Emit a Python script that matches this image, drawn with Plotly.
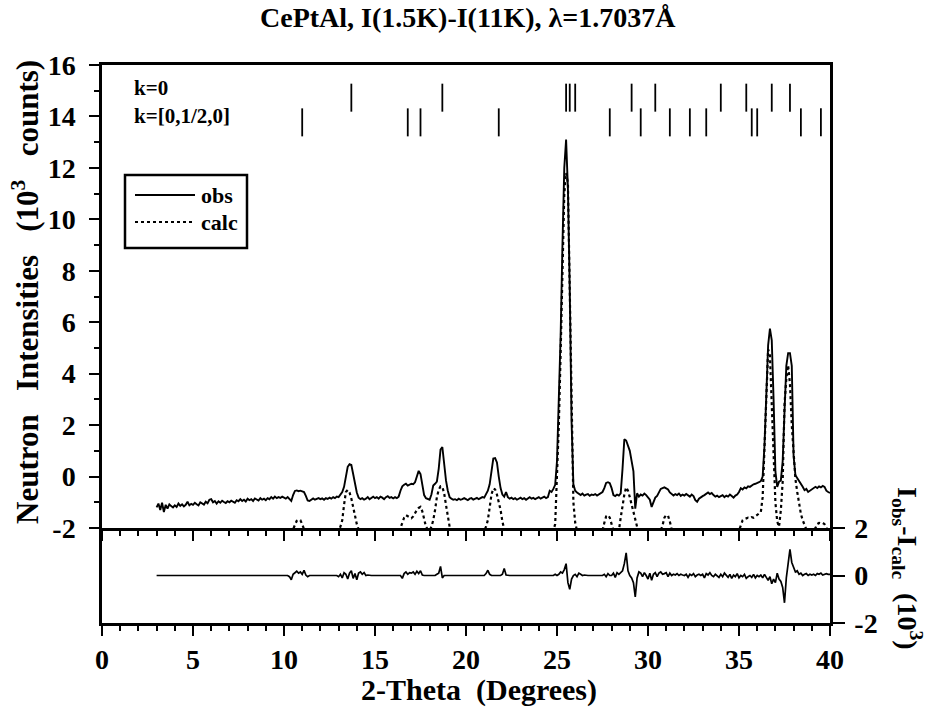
import numpy as np
import plotly.graph_objects as go

# ---------------- data ----------------
# 2-theta step scan: 3.0 .. 40.0 deg, step 0.1
TT_START, TT_STEP, TT_N = 3.0, 0.1, 371

OBS = [
 -1.20, -1.05, -1.30, -1.02, -1.38, -1.10, -1.25, -1.08, -1.15, -1.20,  # 3
 -1.12, -1.18, -1.05, -1.14, -1.08, -1.16, -1.10, -0.98, -1.12, -1.06,  # 4
 -1.10, -1.02, -1.08, -1.12, -1.00, -1.05, -1.09, -0.98, -1.04, -0.90,  # 5
 -0.88, -1.00, -0.95, -1.05, -0.96, -1.02, -0.94, -0.99, -1.03, -0.96,  # 6
 -1.00, -0.94, -0.98, -1.02, -0.92, -0.96, -0.88, -0.95, -0.90, -0.97,  # 7
 -0.86, -0.92, -0.88, -0.95, -0.85, -0.90, -0.93, -0.84, -0.90, -0.86,  # 8
 -0.92, -0.84, -0.88, -0.80, -0.86, -0.78, -0.84, -0.80, -0.83, -0.78,  # 9
 -0.82, -0.86, -0.80, -0.88, -0.95, -0.72, -0.56, -0.54, -0.57, -0.55,  # 10
 -0.58, -0.60, -0.75, -0.93, -0.95, -0.88, -0.85, -0.90, -0.86, -0.84,  # 11
 -0.88, -0.85, -0.90, -0.84, -0.87, -0.82, -0.86, -0.80, -0.84, -0.78,  # 12
 -0.80, -0.72, -0.60, -0.40, -0.05, 0.38, 0.48, 0.45, 0.10, -0.35,      # 13
 -0.62, -0.82, -0.88, -0.84, -0.90, -0.86, -0.80, -0.88, -0.84, -0.78,  # 14
 -0.84, -0.80, -0.86, -0.78, -0.82, -0.88, -0.80, -0.76, -0.83, -0.80,  # 15
 -0.85, -0.80, -0.84, -0.78, -0.55, -0.38, -0.32, -0.28, -0.35, -0.30,  # 16
 -0.28, -0.30, -0.22, 0.00, 0.22, 0.10, -0.35, -0.72, -0.84, -0.88,     # 17
 -0.90, -0.70, -0.35, -0.28, -0.20, 0.30, 1.05, 1.15, 0.40, -0.15,      # 18
 -0.55, -0.80, -0.86, -0.90, -0.88, -0.92, -0.86, -0.90, -0.88, -0.84,  # 19
 -0.88, -0.92, -0.86, -0.84, -0.90, -0.87, -0.83, -0.88, -0.85, -0.80,  # 20
 -0.82, -0.70, -0.55, -0.30, 0.25, 0.70, 0.72, 0.55, 0.00, -0.45,      # 21
 -0.70, -0.78, -0.60, -0.80, -0.86, -0.82, -0.88, -0.84, -0.90, -0.86,  # 22
 -0.82, -0.88, -0.84, -0.90, -0.85, -0.80, -0.86, -0.83, -0.88, -0.84,  # 23
 -0.80, -0.86, -0.82, -0.78, -0.84, -0.80, -0.55, -0.60, -0.48, -0.32,  # 24
 0.60, 2.80, 5.50, 9.00, 12.00, 13.10, 11.20, 7.30, 2.15, -0.30,        # 25
 -0.55, -0.62, -0.68, -0.72, -0.66, -0.74, -0.70, -0.68, -0.75, -0.70,  # 26
 -0.72, -0.68, -0.74, -0.70, -0.66, -0.60, -0.45, -0.25, -0.22, -0.26,  # 27
 -0.45, -0.72, -0.76, -0.70, -0.74, -0.65, 0.30, 1.45, 1.40, 1.20,      # 28
 1.00, 0.60, 0.20, -1.25, -0.65, -0.78, -0.70, -0.74, -0.66, -0.72,     # 29
 -0.80, -0.90, -1.18, -1.00, -0.82, -0.75, -0.60, -0.48, -0.45, -0.42,  # 30
 -0.46, -0.50, -0.62, -0.70, -0.74, -0.68, -0.72, -0.66, -0.75, -0.70,  # 31
 -0.74, -0.68, -0.72, -0.78, -0.70, -0.76, -0.92, -0.98, -0.86, -0.80,  # 32
 -0.76, -0.72, -0.66, -0.62, -0.68, -0.64, -0.72, -0.78, -0.74, -0.80,  # 33
 -0.76, -0.72, -0.80, -0.74, -0.78, -0.70, -0.76, -0.82, -0.74, -0.70,  # 34
 -0.60, -0.45, -0.50, -0.42, -0.46, -0.38, -0.40, -0.34, -0.30, -0.28,  # 35
 -0.26, -0.22, -0.18, 0.00, 1.20, 3.20, 5.10, 5.75, 5.30, 3.00,         # 36
 0.20, -0.40, -0.20, -0.15, 0.60, 2.50, 4.30, 4.80, 4.80, 4.30,         # 37
 0.80, 0.05, -0.05, -0.15, -0.25, -0.40, -0.53, -0.48, -0.60, -0.55,    # 38
 -0.50, -0.42, -0.40, -0.45, -0.38, -0.42, -0.36, -0.40, -0.55, -0.60,  # 39
 -0.64]

CALC = [
 -2.10, -2.10, -2.10, -2.10, -2.10, -2.10, -2.10, -2.10, -2.10, -2.10,  # 3
 -2.10, -2.10, -2.10, -2.10, -2.10, -2.10, -2.10, -2.10, -2.10, -2.10,  # 4
 -2.10, -2.10, -2.10, -2.10, -2.10, -2.10, -2.10, -2.10, -2.10, -2.10,  # 5
 -2.10, -2.10, -2.10, -2.10, -2.10, -2.10, -2.10, -2.10, -2.10, -2.10,  # 6
 -2.10, -2.10, -2.10, -2.10, -2.10, -2.10, -2.10, -2.10, -2.10, -2.10,  # 7
 -2.10, -2.10, -2.10, -2.10, -2.10, -2.10, -2.10, -2.10, -2.10, -2.10,  # 8
 -2.10, -2.10, -2.10, -2.10, -2.10, -2.10, -2.10, -2.10, -2.10, -2.10,  # 9
 -2.10, -2.10, -2.10, -2.10, -2.10, -2.05, -1.90, -1.72, -1.68, -1.70,  # 10
 -1.85, -2.05, -2.10, -2.10, -2.10, -2.10, -2.10, -2.10, -2.10, -2.10,  # 11
 -2.10, -2.10, -2.10, -2.10, -2.10, -2.10, -2.10, -2.10, -2.10, -2.10,  # 12
 -2.10, -1.95, -1.70, -1.10, -0.60, -0.52, -0.62, -0.85, -1.20, -1.50,  # 13
 -1.85, -2.05, -2.10, -2.10, -2.10, -2.10, -2.10, -2.10, -2.10, -2.10,  # 14
 -2.10, -2.10, -2.10, -2.10, -2.10, -2.10, -2.10, -2.10, -2.10, -2.10,  # 15
 -2.10, -2.10, -2.10, -2.10, -2.00, -1.80, -1.60, -1.50, -1.55, -1.60,  # 16
 -1.62, -1.55, -1.40, -1.30, -1.22, -1.18, -1.35, -1.65, -1.95, -2.05,  # 17
 -2.10, -1.95, -1.70, -1.30, -0.80, -0.52, -0.38, -0.40, -0.65, -1.10,  # 18
 -1.55, -1.95, -2.10, -2.10, -2.10, -2.10, -2.10, -2.10, -2.10, -2.10,  # 19
 -2.10, -2.10, -2.10, -2.10, -2.10, -2.10, -2.10, -2.10, -2.10, -2.10,  # 20
 -2.10, -1.95, -1.70, -1.20, -0.70, -0.46, -0.50, -0.70, -1.00, -1.30,  # 21
 -1.75, -2.05, -2.10, -2.10, -2.10, -2.10, -2.10, -2.10, -2.10, -2.10,  # 22
 -2.10, -2.10, -2.10, -2.10, -2.10, -2.10, -2.10, -2.10, -2.10, -2.10,  # 23
 -2.10, -2.10, -2.10, -2.10, -2.10, -2.10, -2.10, -2.10, -2.10, -1.85,  # 24
 -0.20, 2.00, 4.80, 8.00, 11.00, 11.80, 11.40, 7.30, 2.20, -1.00,       # 25
 -1.80, -2.10, -2.10, -2.10, -2.10, -2.10, -2.10, -2.10, -2.10, -2.10,  # 26
 -2.10, -2.10, -2.10, -2.10, -2.10, -2.10, -1.80, -1.55, -1.50, -1.60,  # 27
 -1.85, -2.10, -2.10, -2.10, -2.10, -1.60, -1.10, -0.70, -0.42, -0.55,  # 28
 -0.80, -1.10, -1.40, -1.70, -1.95, -2.10, -2.10, -2.10, -2.10, -2.10,  # 29
 -2.10, -2.10, -2.10, -2.10, -2.10, -2.10, -2.10, -2.10, -1.90, -1.60,  # 30
 -1.50, -1.52, -1.75, -2.05, -2.10, -2.10, -2.10, -2.10, -2.10, -2.10,  # 31
 -2.10, -2.10, -2.10, -2.10, -2.10, -2.10, -2.10, -2.10, -2.10, -2.10,  # 32
 -2.10, -2.10, -2.10, -2.10, -2.10, -2.10, -2.10, -2.10, -2.10, -2.10,  # 33
 -2.10, -2.10, -2.10, -2.10, -2.10, -2.10, -2.10, -2.10, -2.10, -2.10,  # 34
 -2.10, -1.90, -1.70, -1.65, -1.62, -1.60, -1.62, -1.58, -1.60, -1.55,  # 35
 -1.50, -1.45, -1.38, -0.80, 1.20, 3.50, 4.95, 4.70, 2.80, 0.60,        # 36
 -1.00, -1.75, -1.95, -1.30, -0.20, 2.80, 3.80, 4.33, 3.60, 2.00,       # 37
 0.80, -0.10, -0.60, -1.05, -1.45, -1.70, -1.90, -2.05, -2.10, -2.10,   # 38
 -2.10, -2.10, -2.00, -1.85, -1.80, -1.82, -1.80, -1.85, -2.00, -2.10,  # 39
 -2.10]

DIFF = [
 0.00, 0.00, 0.00, 0.00, 0.00, 0.00, 0.00, 0.00, 0.00, 0.00,   # 3
 0.00, 0.00, 0.00, 0.00, 0.00, 0.00, 0.00, 0.00, 0.00, 0.00,   # 4
 0.00, 0.00, 0.00, 0.00, 0.00, 0.00, 0.00, 0.00, 0.00, 0.00,   # 5
 0.00, 0.00, 0.00, 0.00, 0.00, 0.00, 0.00, 0.00, 0.00, 0.00,   # 6
 0.00, 0.00, 0.00, 0.00, 0.00, 0.00, 0.00, 0.00, 0.00, 0.00,   # 7
 0.00, 0.00, 0.00, 0.00, 0.00, 0.00, 0.00, 0.00, 0.00, 0.00,   # 8
 0.00, 0.00, 0.00, 0.00, 0.00, 0.00, 0.00, 0.00, 0.00, 0.00,   # 9
 0.00, 0.00, 0.00, -0.05, -0.18, 0.05, 0.12, 0.18, 0.10, 0.15, # 10
 0.05, 0.22, 0.02, -0.05, 0.00, 0.00, 0.00, -0.02, 0.00, 0.00, # 11
 0.00, 0.00, 0.00, 0.00, 0.00, 0.00, 0.00, 0.00, 0.00, 0.00,   # 12
 -0.05, 0.05, -0.10, 0.12, 0.05, -0.15, 0.10, 0.20, -0.12, 0.08, # 13
 -0.18, 0.10, 0.15, 0.05, 0.12, 0.00, 0.02, 0.00, 0.00, 0.00,  # 14
 0.00, 0.00, 0.00, 0.00, 0.00, 0.00, 0.00, 0.00, 0.00, 0.00,   # 15
 0.00, 0.00, 0.00, 0.00, 0.00, -0.12, 0.08, 0.15, 0.05, 0.12,  # 16
 0.10, 0.15, 0.05, 0.18, 0.08, 0.20, 0.02, 0.00, 0.00, 0.00,   # 17
 0.00, 0.00, 0.00, 0.00, 0.05, 0.10, 0.38, -0.10, 0.00, 0.00,  # 18
 0.00, 0.00, 0.00, 0.00, 0.00, 0.00, 0.00, 0.00, 0.00, 0.00,   # 19
 0.00, 0.00, 0.00, 0.00, 0.00, 0.00, 0.00, 0.00, 0.00, 0.00,   # 20
 0.00, 0.08, 0.22, 0.05, 0.00, 0.00, 0.00, 0.00, 0.00, 0.00,   # 21
 0.05, 0.30, 0.02, 0.00, 0.00, 0.00, 0.00, 0.00, 0.00, 0.00,   # 22
 0.00, 0.00, 0.00, 0.00, 0.00, 0.00, 0.00, 0.00, 0.00, 0.00,   # 23
 0.00, 0.00, 0.00, 0.00, 0.00, 0.00, 0.00, 0.00, 0.00, 0.05,   # 24
 0.00, 0.05, 0.15, 0.10, 0.25, 0.50, -0.30, -0.58, -0.15, 0.00, # 25
 0.05, -0.05, 0.10, 0.05, 0.00, 0.02, 0.00, 0.00, 0.00, 0.00,  # 26
 0.00, 0.00, 0.00, 0.00, 0.00, 0.00, 0.05, -0.05, 0.08, 0.00,  # 27
 0.00, 0.10, -0.08, 0.12, 0.05, 0.15, 0.20, 0.50, 0.95, 0.20,  # 28
 0.00, -0.10, -0.30, -0.90, -0.10, 0.15, 0.10, -0.05, 0.12, 0.00, # 29
 -0.15, 0.10, -0.20, 0.05, 0.12, -0.05, 0.10, 0.15, 0.05, 0.08, # 30
 0.12, -0.05, 0.10, 0.00, 0.05, 0.02, 0.08, 0.00, 0.05, 0.02,  # 31
 0.00, 0.05, -0.08, 0.05, 0.00, 0.08, -0.05, 0.02, 0.05, 0.00, # 32
 0.05, -0.10, 0.08, 0.02, 0.12, 0.00, -0.05, 0.05, 0.00, -0.08, # 33
 0.05, -0.05, 0.10, 0.00, -0.08, 0.05, -0.12, 0.02, -0.05, 0.08, # 34
 -0.10, 0.00, -0.05, 0.05, -0.12, -0.05, 0.00, -0.08, 0.05, -0.10, # 35
 0.00, -0.05, 0.02, -0.10, 0.05, -0.08, -0.20, -0.05, -0.35, -0.15, # 36
 -0.30, 0.10, -0.15, -0.25, -0.50, -1.15, -0.10, 0.50, 1.10, 0.55, # 37
 0.35, 0.15, 0.20, 0.05, 0.10, 0.00, 0.05, 0.08, 0.00, 0.05,   # 38
 0.02, 0.05, 0.00, 0.08, 0.05, 0.10, 0.02, 0.05, 0.08, 0.05,   # 39
 0.05]

# reflection positions (2-theta, degrees)
REFL_K0 = [13.7, 18.7, 25.5, 25.7, 26.0, 29.1, 30.4, 34.0, 35.4, 36.8, 37.8]
REFL_KHALF = [11.0, 16.8, 17.5, 21.8, 27.9, 29.6, 31.2, 32.3, 33.2,
              35.7, 36.0, 38.4, 39.5]

X_TICKS = [0, 5, 10, 15, 20, 25, 30, 35, 40]
Y_TICKS = [-2, 0, 2, 4, 6, 8, 10, 12, 14, 16]
Y2_TICKS = [-2, 0, 2]

assert len(OBS) == TT_N and len(CALC) == TT_N and len(DIFF) == TT_N, \
    (len(OBS), len(CALC), len(DIFF))
TWO_THETA = np.round(TT_START + TT_STEP * np.arange(TT_N), 1)

# ---------------- layout constants ----------------
W, H = 928, 711
ML, MR, MT, MB = 102, 98, 65, 88
PW, PH = W - ML - MR, H - MT - MB
SPLIT_PX = 528               # boundary between panels (px from top)
SPLIT = (H - MB - SPLIT_PX) / PH

def px(xp):
    return (xp - ML) / PW

def py(yp):
    return (H - MB - yp) / PH

FONT = "Liberation Serif"
BIG = dict(family=FONT, size=28, color="black", weight="bold")
NB2 = "\u00a0\u00a0"
NB3 = "\u00a0\u00a0\u00a0"
K_ROW0, K_ROW1 = 14.73, 13.77   # y levels of reflection rows

fig = go.Figure()
fig.add_trace(go.Scatter(x=TWO_THETA, y=OBS, xaxis="x2", yaxis="y", mode="lines",
                         line=dict(color="black", width=1.9), showlegend=False))
fig.add_trace(go.Scatter(x=TWO_THETA, y=CALC, xaxis="x2", yaxis="y", mode="lines",
                         line=dict(color="black", width=2.2, dash="dot"), showlegend=False))
fig.add_trace(go.Scatter(x=TWO_THETA, y=DIFF, xaxis="x", yaxis="y2", mode="lines",
                         line=dict(color="black", width=1.7), showlegend=False))
for xs, lvl in ((REFL_K0, K_ROW0), (REFL_KHALF, K_ROW1)):
    fig.add_trace(go.Scatter(x=xs, y=[lvl] * len(xs), xaxis="x2", yaxis="y", mode="markers",
                             marker=dict(symbol="line-ns", size=20,
                                         line=dict(width=1.8, color="black")),
                             showlegend=False, hoverinfo="x"))

axis_common = dict(showline=True, linecolor="black", linewidth=2.5, showgrid=False,
                   zeroline=False, ticks="outside", tickcolor="black", tickwidth=2)

fig.update_layout(
    width=W, height=H, margin=dict(l=ML, r=MR, t=MT, b=MB),
    paper_bgcolor="white", plot_bgcolor="white", showlegend=False,
    xaxis=dict(domain=[0, 1], anchor="y2", range=[0, 40], tickvals=X_TICKS,
               ticktext=[str(v) for v in X_TICKS], ticklen=10, tickfont=BIG,
               ticklabelstandoff=0,
               minor=dict(ticks="outside", tick0=0, dtick=1, ticklen=5, tickwidth=1.5,
                          tickcolor="black"),
               **axis_common),
    xaxis2=dict(domain=[0, 1], anchor="y", matches="x", range=[0, 40], tickvals=X_TICKS,
                showticklabels=False, ticklen=10, mirror=True,
                minor=dict(ticks="outside", tick0=0, dtick=1, ticklen=5, tickwidth=1.5,
                           tickcolor="black"),
                **axis_common),
    yaxis=dict(domain=[SPLIT, 1], anchor="x2", range=[-2, 16], tickvals=Y_TICKS,
               ticktext=[str(v) for v in Y_TICKS], ticklen=10, tickfont=BIG, mirror=True,
               ticklabelstandoff=8,
               minor=dict(ticks="outside", tick0=0, dtick=1, ticklen=5, tickwidth=1.5,
                          tickcolor="black"),
               **axis_common),
    yaxis2=dict(domain=[0, SPLIT], anchor="x", side="right", range=[-2, 2],
                tickvals=Y2_TICKS, ticktext=[str(v) for v in Y2_TICKS], ticklen=12,
                tickfont=BIG, mirror=True, ticklabelstandoff=4, **axis_common),
)

TITLE_Y_FONT = dict(family=FONT, size=31, color="black", weight="bold")
ann = []
ann.append(dict(text="CePtAl, I(1.5K)-I(11K), \u03bb=1.7037\u00c5", xref="paper", yref="paper",
                x=px(468), y=py(17), showarrow=False, font=BIG, xanchor="center",
                yanchor="middle"))
ann.append(dict(text="Neutron" + NB3 + "Intensities" + NB3 + "(10<sup>3</sup>" + NB3 + "counts)",
                xref="paper", yref="paper", x=px(25), y=py(292), textangle=-90,
                showarrow=False, font=TITLE_Y_FONT, xanchor="center", yanchor="middle"))
ann.append(dict(text="2-Theta" + NB2 + "(Degrees)", xref="paper", yref="paper", x=px(479),
                y=py(690), showarrow=False,
                font=dict(family=FONT, size=30, color="black", weight="bold"),
                xanchor="center", yanchor="middle"))
ann.append(dict(text="I<sub>obs</sub>-I<sub>calc</sub>" + NB2 + "(10<sup>3</sup>)", xref="paper",
                yref="paper", x=px(908), y=py(568), textangle=90, showarrow=False,
                font=BIG, xanchor="center", yanchor="middle"))
KFONT = dict(family=FONT, size=21, color="black", weight="bold")
ann.append(dict(text="k=0", xref="paper", yref="paper", x=px(132), y=py(88),
                showarrow=False, font=KFONT, xanchor="left", yanchor="middle"))
ann.append(dict(text="k=[0,1/2,0]", xref="paper", yref="paper", x=px(132), y=py(116),
                showarrow=False, font=KFONT, xanchor="left", yanchor="middle"))
LFONT = dict(family=FONT, size=22, color="black", weight="bold")
ann.append(dict(text="obs", xref="paper", yref="paper", x=px(199), y=py(195),
                showarrow=False, font=LFONT, xanchor="left", yanchor="middle"))
ann.append(dict(text="calc", xref="paper", yref="paper", x=px(199), y=py(222),
                showarrow=False, font=LFONT, xanchor="left", yanchor="middle"))

shapes = [
    dict(type="rect", xref="paper", yref="paper", x0=px(125), x1=px(247),
         y0=py(248), y1=py(175), line=dict(color="black", width=2.5)),
    dict(type="line", xref="paper", yref="paper", x0=px(135), x1=px(195),
         y0=py(195), y1=py(195), line=dict(color="black", width=1.9)),
    dict(type="line", xref="paper", yref="paper", x0=px(135), x1=px(195),
         y0=py(222), y1=py(222), line=dict(color="black", width=2.2, dash="dot")),
]
fig.update_layout(annotations=ann, shapes=shapes)

fig.write_html("out.html")
